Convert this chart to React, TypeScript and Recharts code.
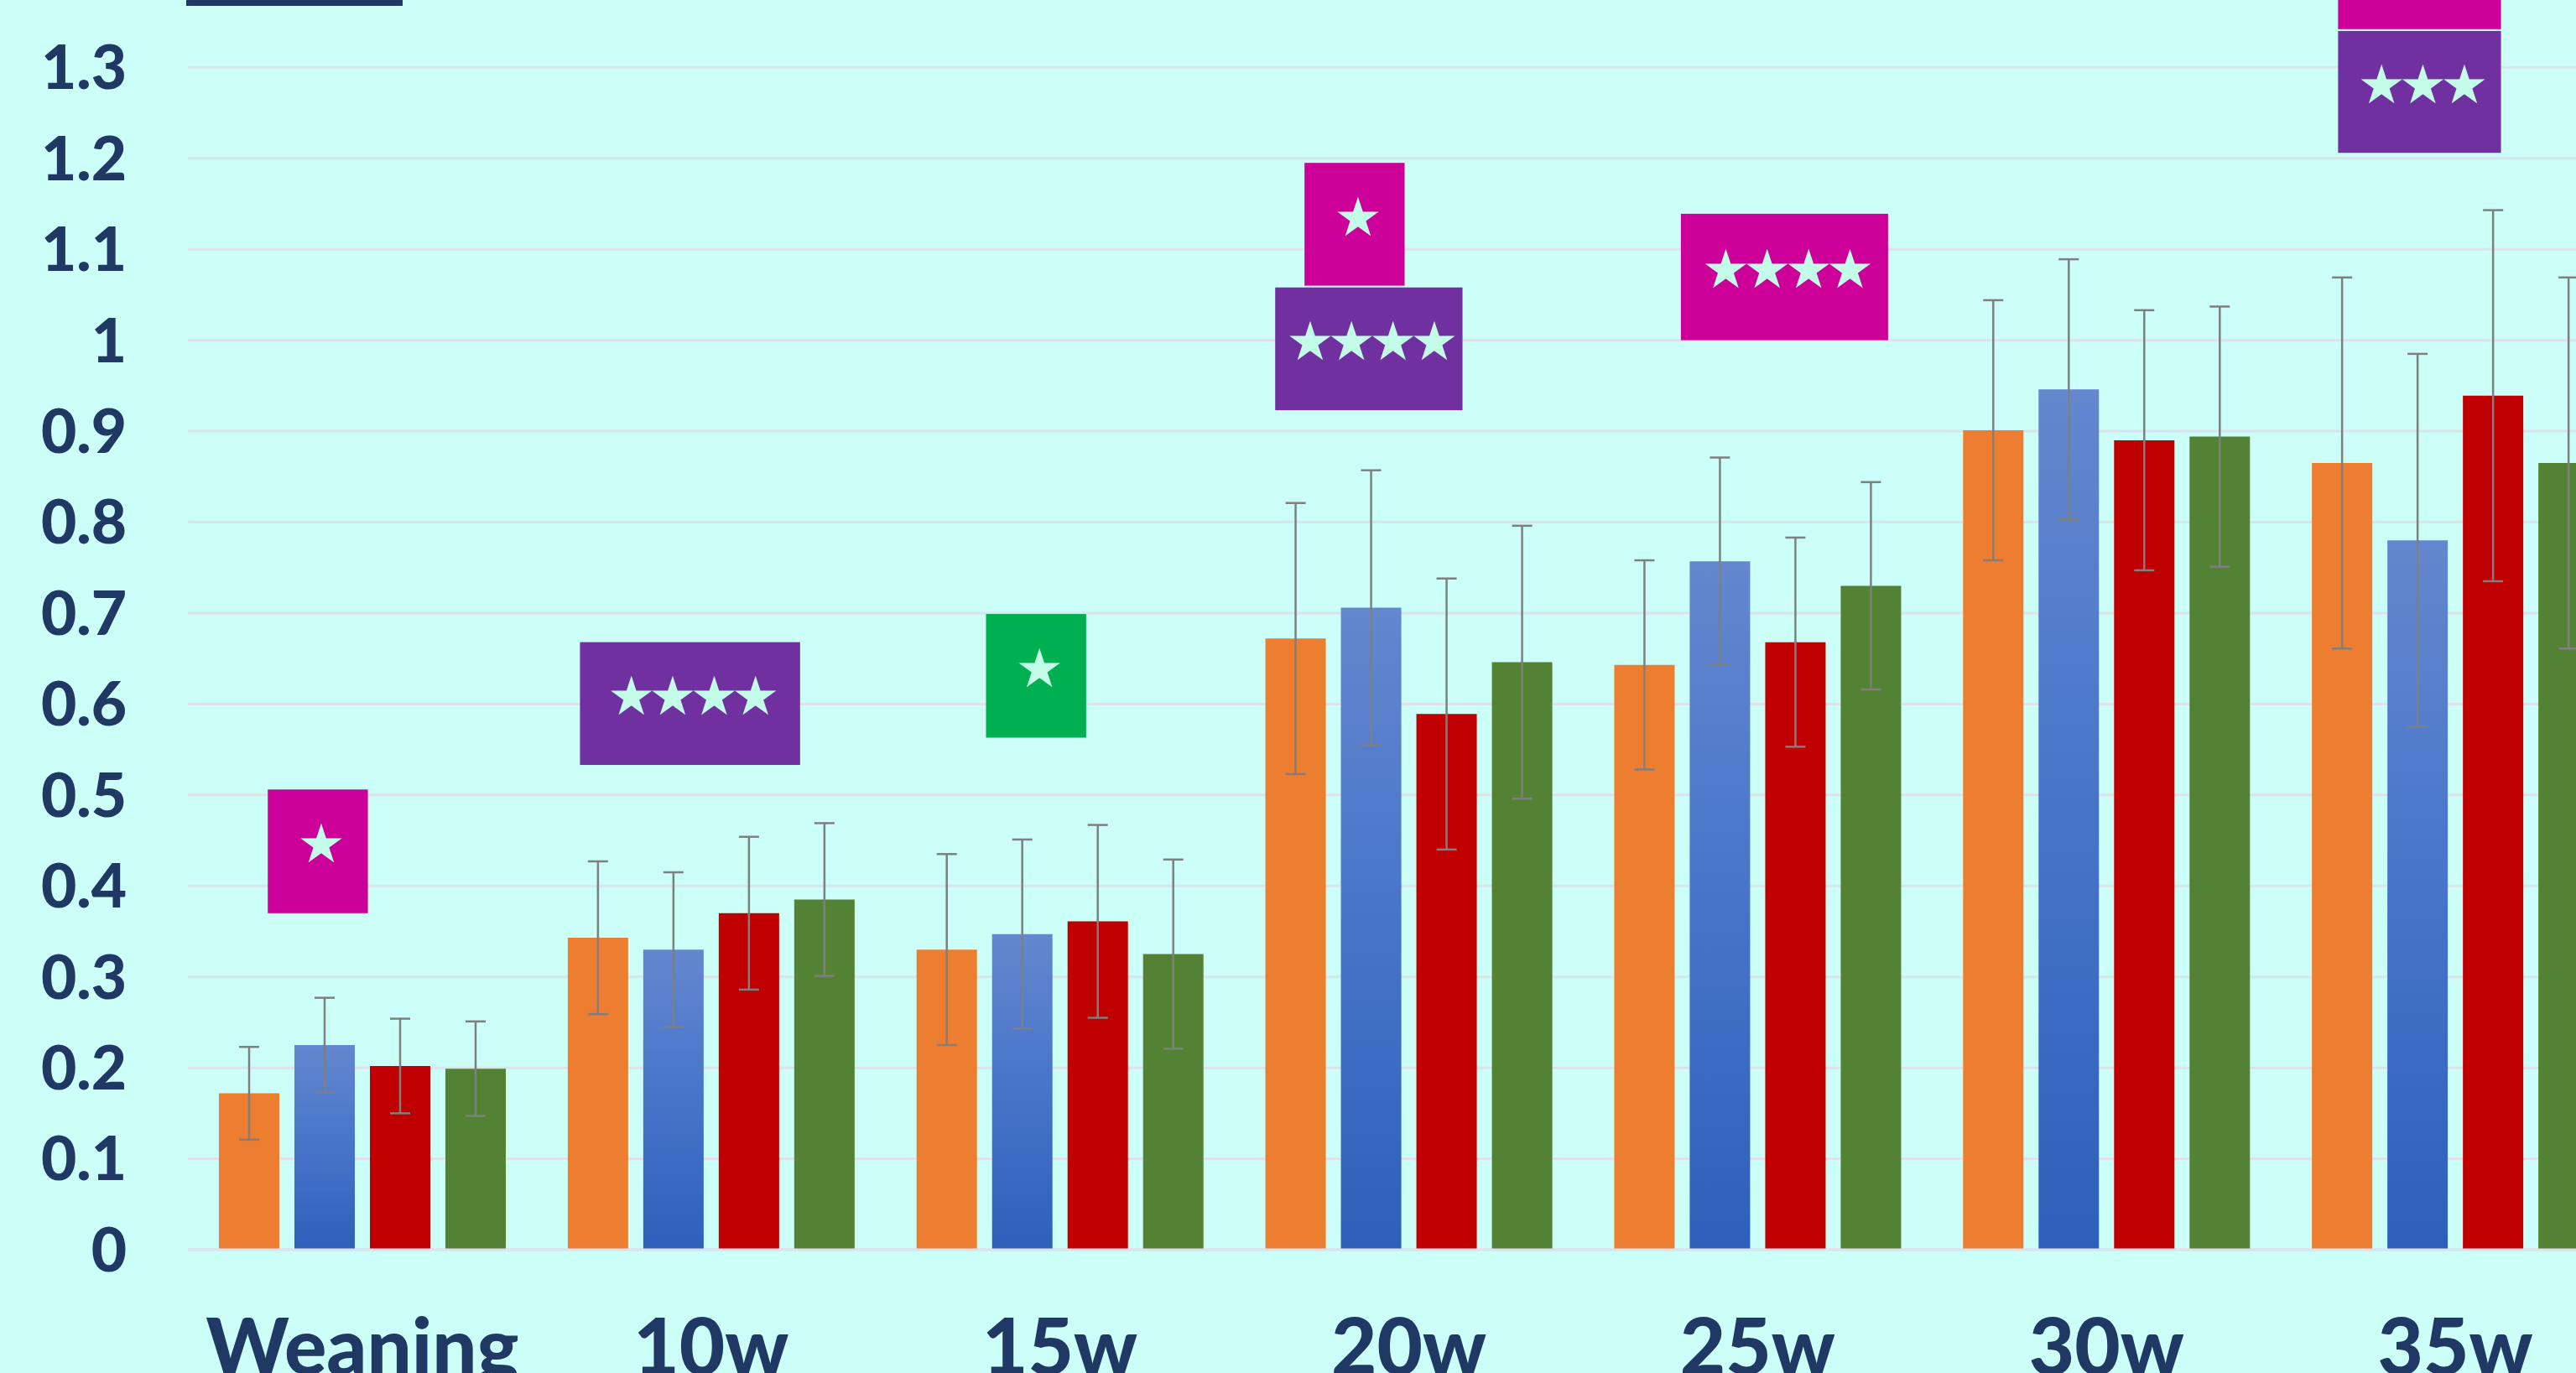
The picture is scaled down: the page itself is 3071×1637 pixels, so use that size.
import React from "react";
import { BarChart, Bar, XAxis, YAxis, CartesianGrid, ErrorBar, ReferenceArea } from "recharts";

// categories and series values
const categories = ["Weaning", "10w", "15w", "20w", "25w", "30w", "35w"];
const orangeValues = [0.172, 0.343, 0.33, 0.672, 0.643, 0.901, 0.865];
const blueValues = [0.225, 0.33, 0.347, 0.706, 0.757, 0.946, 0.78];
const redValues = [0.202, 0.37, 0.361, 0.589, 0.668, 0.89, 0.939];
const greenValues = [0.199, 0.385, 0.325, 0.646, 0.73, 0.894, 0.865];

const orangeErrors = [0.051, 0.084, 0.105, 0.149, 0.115, 0.143, 0.204];
const blueErrors = [0.052, 0.085, 0.104, 0.151, 0.114, 0.143, 0.205];
const redErrors = [0.052, 0.084, 0.106, 0.149, 0.115, 0.143, 0.204];
const greenErrors = [0.052, 0.084, 0.104, 0.15, 0.114, 0.143, 0.204];

const yTicks = [0, 0.1, 0.2, 0.3, 0.4, 0.5, 0.6, 0.7, 0.8, 0.9, 1, 1.1, 1.2, 1.3];

// significance markers
const markCategories = ["Weaning", "10w", "15w", "20w", "20w", "25w", "35w", "35w"];
const markTops = [0.506, 0.668, 0.699, 1.195, 1.058, 1.139, 1.477, 1.34];
const markBottoms = [0.37, 0.533, 0.563, 1.06, 0.923, 1.0, 1.342, 1.206];
// the top 35w box is cut off by the frame, its label is not visible
const markStars = ["★", "★★★★", "★", "★", "★★★★", "★★★★", "", "★★★"];

// box layout inside the category band (fractions) and fill
const markLeft = [0.229, 0.124, 0.288, 0.201, 0.117, 0.28, 0.164, 0.164];
const markRight = [0.516, 0.755, 0.575, 0.488, 0.654, 0.874, 0.631, 0.631];
const MAGENTA = "#CC0099";
const PURPLE = "#7030A0";
const GREEN_BOX = "#00B050";
const markFills = [MAGENTA, PURPLE, GREEN_BOX, MAGENTA, PURPLE, MAGENTA, MAGENTA, PURPLE];

const data = categories.map((c, i) => ({
  name: c,
  orange: orangeValues[i],
  blue: blueValues[i],
  red: redValues[i],
  green: greenValues[i],
  orangeErr: orangeErrors[i],
  blueErr: blueErrors[i],
  redErr: redErrors[i],
  greenErr: greenErrors[i],
}));

const BG = "#CBFFF7";
const NAVY = "#1F3864";
const GRID = "#DCE2EE";
const ERR = "#7F7F7F";
const STAR = "#C4FCEA";

const tickFont = { fill: NAVY, fontFamily: "Lato", fontWeight: 900 };

function markShape(i: number) {
  return (props: any) => {
    const { x, y, width, height } = props;
    const bx = x + width * markLeft[i];
    const bw = width * (markRight[i] - markLeft[i]);
    return (
      <g>
        <rect x={bx} y={y} width={bw} height={height} fill={markFills[i]} />
        {markStars[i] && (
          <text
            x={bx + bw / 2}
            y={y + height * 0.44}
            textAnchor="middle"
            dominantBaseline="central"
            fontFamily="DejaVu Sans"
            fontSize={64}
            letterSpacing={-8}
            fill={STAR}
          >
            {markStars[i]}
          </text>
        )}
      </g>
    );
  };
}

export default function App() {
  return (
    <div
      style={{
        position: "fixed",
        left: 0,
        top: 0,
        width: 3071,
        height: 1637,
        overflow: "hidden",
        background: BG,
      }}
    >
      {/* bottom edge of the legend box, cut off by the frame */}
      <div style={{ position: "absolute", left: 222, top: 0, width: 258, height: 7, background: NAVY }} />
      <div style={{ position: "absolute", left: 0, top: -300 }}>
        <BarChart
          width={3135}
          height={1990}
          data={data}
          margin={{ top: 55, right: 0, left: 0, bottom: 0 }}
          barSize={72}
          barGap={18}
        >
          <defs>
            <linearGradient id="blueFill" x1="0" y1="0" x2="0" y2="1">
              <stop offset="0%" stopColor="#6487CE" />
              <stop offset="50%" stopColor="#4674C9" />
              <stop offset="100%" stopColor="#2D60BA" />
            </linearGradient>
          </defs>
          <CartesianGrid vertical={false} stroke={GRID} strokeWidth={3} />
          <XAxis
            dataKey="name"
            height={200}
            axisLine={{ stroke: GRID, strokeWidth: 3 }}
            tickLine={false}
            tickMargin={76}
            tick={{ ...tickFont, fontSize: 94 }}
          />
          <YAxis
            width={224}
            domain={[0, 1.6]}
            ticks={yTicks}
            interval={0}
            axisLine={false}
            tickLine={false}
            tickMargin={67}
            tickFormatter={(v: number) => String(v)}
            tick={{ ...tickFont, fontSize: 73 }}
          />
          <Bar dataKey="orange" fill="#ED7D31" isAnimationActive={false}>
            <ErrorBar dataKey="orangeErr" width={12} strokeWidth={2.5} stroke={ERR} isAnimationActive={false} />
          </Bar>
          <Bar dataKey="blue" fill="url(#blueFill)" isAnimationActive={false}>
            <ErrorBar dataKey="blueErr" width={12} strokeWidth={2.5} stroke={ERR} isAnimationActive={false} />
          </Bar>
          <Bar dataKey="red" fill="#C00000" isAnimationActive={false}>
            <ErrorBar dataKey="redErr" width={12} strokeWidth={2.5} stroke={ERR} isAnimationActive={false} />
          </Bar>
          <Bar dataKey="green" fill="#548235" isAnimationActive={false}>
            <ErrorBar dataKey="greenErr" width={12} strokeWidth={2.5} stroke={ERR} isAnimationActive={false} />
          </Bar>
          {markCategories.map((c, i) => (
            <ReferenceArea
              key={`mark-${i}`}
              x1={c}
              x2={c}
              y1={markBottoms[i]}
              y2={markTops[i]}
              ifOverflow="visible"
              shape={markShape(i)}
            />
          ))}
        </BarChart>
      </div>
    </div>
  );
}
